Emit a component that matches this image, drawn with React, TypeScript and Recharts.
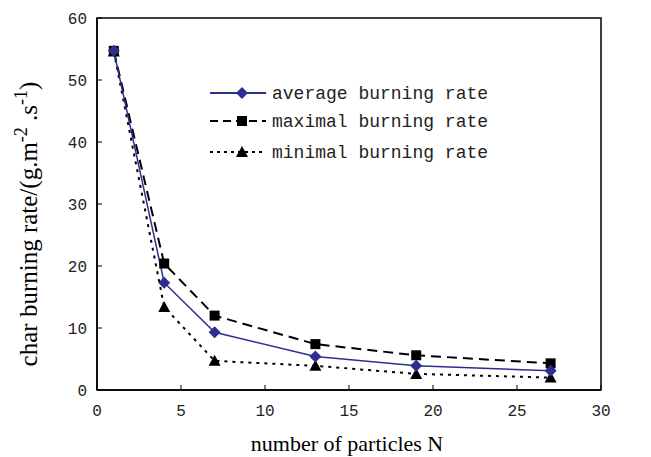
import React from "react";
import {
  LineChart,
  Line,
  XAxis,
  YAxis,
  ReferenceArea,
} from "recharts";

const particles = [1, 4, 7, 13, 19, 27];
const averageRate = [54.7, 17.3, 9.3, 5.4, 3.9, 3.1];
const maximalRate = [54.7, 20.4, 12.0, 7.4, 5.6, 4.3];
const minimalRate = [54.6, 13.4, 4.7, 3.9, 2.6, 2.0];
const xTicks = [0, 5, 10, 15, 20, 25, 30];
const yTicks = [0, 10, 20, 30, 40, 50, 60];

const data = particles.map((n, i) => ({
  n,
  avg: averageRate[i],
  max: maximalRate[i],
  min: minimalRate[i],
}));

const NAVY = "#2e2e8c";
const tickFont = "'Liberation Mono', monospace";
const titleFont = "'Liberation Serif', 'Times New Roman', serif";

function Diamond({ cx, cy }: any) {
  if (cx == null || cy == null) return null;
  const r = 6;
  return (
    <path
      d={`M${cx},${cy - r}L${cx + r},${cy}L${cx},${cy + r}L${cx - r},${cy}Z`}
      fill={NAVY}
    />
  );
}

function Square({ cx, cy }: any) {
  if (cx == null || cy == null) return null;
  return <rect x={cx - 5} y={cy - 5} width={10} height={10} fill="#000" />;
}

function Triangle({ cx, cy }: any) {
  if (cx == null || cy == null) return null;
  return (
    <path
      d={`M${cx},${cy - 6}L${cx + 6},${cy + 5}L${cx - 6},${cy + 5}Z`}
      fill="#000"
    />
  );
}

function XTick({ x, y, payload }: any) {
  return (
    <g>
      <line x1={x} y1={y} x2={x} y2={y - 5} stroke="#000" />
      <text x={x} y={y + 26} textAnchor="middle" fontFamily={tickFont} fontSize={16} fill="#222">
        {payload.value}
      </text>
    </g>
  );
}

function YTick({ x, y, payload }: any) {
  return (
    <g>
      <line x1={x} y1={y} x2={x + 5} y2={y} stroke="#000" />
      <text x={x - 10} y={y + 6} textAnchor="end" fontFamily={tickFont} fontSize={16} fill="#222">
        {payload.value}
      </text>
    </g>
  );
}

function YTitle({ viewBox }: any) {
  const cx = viewBox.x;
  const cy = viewBox.y + viewBox.height / 2 + 20;
  return (
    <text
      transform={`translate(${cx},${cy}) rotate(-90)`}
      textAnchor="middle"
      fontFamily={titleFont}
      fontSize={25}
      fill="#000"
    >
      char burning rate/(g.m
      <tspan fontSize={18} dy={-10}>-2</tspan>
      <tspan dy={10}> .s</tspan>
      <tspan fontSize={18} dy={-10}>-1</tspan>
      <tspan dy={10}>)</tspan>
    </text>
  );
}

function XTitle({ viewBox }: any) {
  return (
    <text
      x={viewBox.x + viewBox.width / 2 - 2}
      y={viewBox.y + 61}
      textAnchor="middle"
      fontFamily={titleFont}
      fontSize={22}
      fill="#000"
    >
      number of particles N
    </text>
  );
}

const legendItems = [
  { label: "average burning rate", color: NAVY, dash: undefined, Mark: Diamond, dy: 0 },
  { label: "maximal burning rate", color: "#000", dash: "8 5", Mark: Square, dy: 28 },
  { label: "minimal burning rate", color: "#000", dash: "3 4", Mark: Triangle, dy: 59 },
];

function ChartLegend() {
  return (
    <svg width={300} height={80}>
      {legendItems.map((it) => (
        <g key={it.label}>
          <line
            x1={0}
            y1={10 + it.dy}
            x2={56}
            y2={10 + it.dy}
            stroke={it.color}
            strokeWidth={2}
            strokeDasharray={it.dash}
          />
          <it.Mark cx={32} cy={10 + it.dy} />
          <text x={62} y={16 + it.dy} fontFamily={tickFont} fontSize={18} fill="#222">
            {it.label}
          </text>
        </g>
      ))}
    </svg>
  );
}

export default function App() {
  return (
    <div style={{ position: "absolute", left: 0, top: 0, width: 651, height: 457, background: "#fff" }}>
      <LineChart
        width={651}
        height={457}
        data={data}
        margin={{ top: 18, right: 50, bottom: 37, left: 37 }}
      >
        <ReferenceArea x1={0} x2={30} y1={0} y2={60} fill="none" stroke="#000" strokeWidth={1.5} />
        <XAxis
          dataKey="n"
          type="number"
          domain={[0, 30]}
          ticks={xTicks}
          height={30}
          tickSize={0}
          tickMargin={0}
          tickLine={false}
          axisLine={{ stroke: "#000", strokeWidth: 1.5 }}
          tick={<XTick />}
          label={<XTitle />}
        />
        <YAxis
          type="number"
          domain={[0, 60]}
          ticks={yTicks}
          width={60}
          tickSize={0}
          tickMargin={0}
          tickLine={false}
          axisLine={{ stroke: "#000", strokeWidth: 1.5 }}
          tick={<YTick />}
          label={<YTitle />}
        />
        <Line
          dataKey="min"
          stroke="#000"
          strokeWidth={2}
          strokeDasharray="3 5"
          dot={<Triangle />}
          isAnimationActive={false}
        />
        <Line
          dataKey="max"
          stroke="#000"
          strokeWidth={2}
          strokeDasharray="10 6"
          dot={<Square />}
          isAnimationActive={false}
        />
        <Line
          dataKey="avg"
          stroke={NAVY}
          strokeWidth={1.5}
          dot={<Diamond />}
          isAnimationActive={false}
        />
      </LineChart>
      <div style={{ position: "absolute", left: 210, top: 83 }}>
        <ChartLegend />
      </div>
    </div>
  );
}
